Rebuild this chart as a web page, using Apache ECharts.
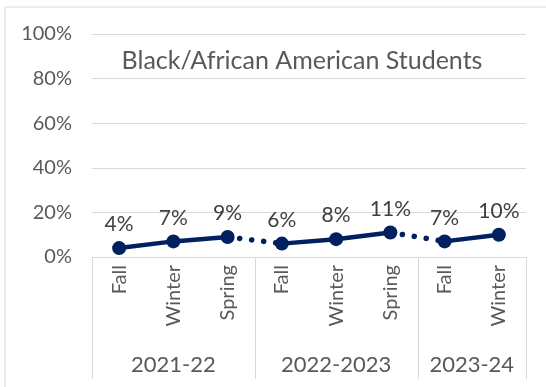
<!DOCTYPE html>
<html>
<head>
<meta charset="utf-8">
<script src="https://cdn.jsdelivr.net/npm/echarts@6/dist/echarts.min.js"></script>
<style>
  html, body { margin: 0; padding: 0; background: #fff; }
  #chart { width: 546px; height: 387px; }
</style>
</head>
<body>
<div id="chart"></div>
<script>
// Terms within each school year, and the school years they belong to
const terms = ['Fall', 'Winter', 'Spring', 'Fall', 'Winter', 'Spring', 'Fall', 'Winter'];
const yearNames = ['2021-22', '2022-2023', '2023-24'];
const yearSpans = [3, 3, 2];
// Percent of Black/African American students
const values = [4, 7, 9, 6, 8, 11, 7, 10];
const yTicks = [0, 20, 40, 60, 80, 100];

const FONT = 'Lato, "Open Sans", sans-serif';
const NAVY = '#002060';
const GRID_GRAY = '#d9d9d9';
const TEXT_GRAY = '#595959';

// Split the values into solid runs (within a year) and dotted links (across years)
const solidA = [], solidB = [], dotted = [];
const yearOf = [];
yearSpans.forEach((s, g) => { for (let k = 0; k < s; k++) yearOf.push(g); });
values.forEach((v, i) => {
  const g = yearOf[i];
  solidA.push(g % 2 === 0 ? v : '-');
  solidB.push(g % 2 === 1 ? v : '-');
  const firstOfYear = i > 0 && yearOf[i - 1] !== g;
  const lastOfYear = i < values.length - 1 && yearOf[i + 1] !== g;
  dotted.push(firstOfYear || lastOfYear ? v : '-');
});

const chart = echarts.init(document.getElementById('chart'), null, { renderer: 'canvas' });

const solidSeries = (data) => ({
  type: 'line',
  data: data,
  symbol: 'circle',
  symbolSize: 14,
  lineStyle: { color: NAVY, width: 4.5 },
  itemStyle: { color: NAVY },
  label: {
    show: true,
    position: 'top',
    distance: 6,
    formatter: '{c}%',
    fontFamily: FONT,
    fontSize: 21,
    color: '#404040'
  },
  connectNulls: false,
  animation: false,
  z: 3
});

chart.setOption({
  animation: false,
  grid: { left: 92, right: 20, top: 34, bottom: 130 },
  title: {
    text: 'Black/African American Students',
    left: 297,
    textAlign: 'center',
    top: 43,
    textStyle: { fontFamily: FONT, fontSize: 25, fontWeight: 'normal', color: TEXT_GRAY }
  },
  xAxis: {
    type: 'category',
    data: terms,
    boundaryGap: true,
    axisLine: { lineStyle: { color: GRID_GRAY, width: 1 } },
    axisTick: { show: false },
    axisLabel: {
      rotate: 90,
      margin: 8,
      interval: 0,
      fontFamily: FONT,
      fontSize: 20,
      color: TEXT_GRAY
    }
  },
  yAxis: {
    type: 'value',
    min: yTicks[0],
    max: yTicks[yTicks.length - 1],
    interval: yTicks[1] - yTicks[0],
    axisLine: { show: false },
    axisTick: { show: false },
    splitLine: { lineStyle: { color: GRID_GRAY, width: 1 } },
    axisLabel: {
      formatter: '{value}%',
      margin: 20,
      fontFamily: FONT,
      fontSize: 20,
      color: TEXT_GRAY
    }
  },
  series: [
    {
      type: 'line',
      data: dotted,
      symbol: 'none',
      lineStyle: { color: NAVY, width: 5.5, type: [0.1, 12], cap: 'round' },
      connectNulls: false,
      animation: false,
      z: 2
    },
    solidSeries(solidA),
    solidSeries(solidB)
  ]
});

// School-year grouping under the term labels: dividers and year names
function drawGroups() {
  const yBase = chart.convertToPixel({ yAxisIndex: 0 }, 0);
  const half = (chart.convertToPixel({ xAxisIndex: 0 }, 1) - chart.convertToPixel({ xAxisIndex: 0 }, 0)) / 2;
  const elements = [
    {
      type: 'rect',
      shape: { x: 5, y: 7, width: 600, height: 500 },
      style: { fill: 'none', stroke: GRID_GRAY, lineWidth: 1 },
      silent: true
    }
  ];
  let idx = 0;
  const bottom = yBase + 122;
  const edges = [chart.convertToPixel({ xAxisIndex: 0 }, 0) - half];
  yearSpans.forEach((span, g) => {
    const left = chart.convertToPixel({ xAxisIndex: 0 }, idx) - half;
    const right = chart.convertToPixel({ xAxisIndex: 0 }, idx + span - 1) + half;
    edges.push(right);
    elements.push({
      type: 'text',
      x: (left + right) / 2,
      y: yBase + 108,
      style: {
        text: yearNames[g],
        fontFamily: FONT,
        fontSize: 22,
        fill: TEXT_GRAY,
        align: 'center',
        verticalAlign: 'middle'
      },
      silent: true
    });
    idx += span;
  });
  edges.forEach((x) => {
    const px = Math.round(x) + 0.5;
    elements.push({
      type: 'line',
      shape: { x1: px, y1: yBase, x2: px, y2: bottom },
      style: { stroke: GRID_GRAY, lineWidth: 1 },
      silent: true
    });
  });
  chart.setOption({ graphic: elements });
}
drawGroups();
</script>
</body>
</html>
